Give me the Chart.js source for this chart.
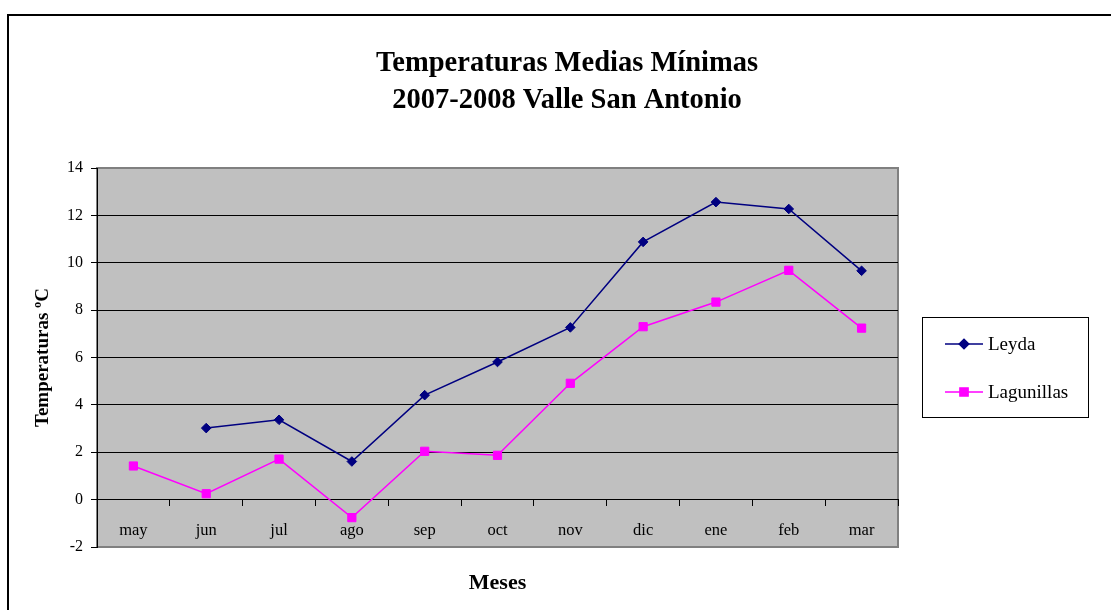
<!DOCTYPE html>
<html>
<head>
<meta charset="utf-8">
<script src="https://cdn.jsdelivr.net/npm/chart.js@4/dist/chart.umd.min.js"></script>
<style>
  html, body { margin: 0; padding: 0; background: #fff; }
  #wrap { position: relative; width: 1111px; height: 610px; overflow: hidden; }
  #frame { position: absolute; left: 7px; top: 14px; width: 1200px; height: 700px;
           border-top: 2px solid #000; border-left: 2px solid #000; pointer-events: none; }
  canvas { position: absolute; left: 0; top: 0; }
</style>
</head>
<body>
<div id="wrap">
  <canvas id="c" width="1111" height="610"></canvas>
  <div id="frame"></div>
</div>
<script>
const months = ['may', 'jun', 'jul', 'ago', 'sep', 'oct', 'nov', 'dic', 'ene', 'feb', 'mar'];
const leyda = [null, 3.02, 3.37, 1.61, 4.41, 5.81, 7.27, 10.88, 12.56, 12.27, 9.66];
const lagunillas = [1.42, 0.25, 1.71, -0.76, 2.04, 1.87, 4.91, 7.30, 8.34, 9.68, 7.24];
const titleLines = ['Temperaturas Medias Mínimas', '2007-2008 Valle San Antonio'];
const yTitle = 'Temperaturas ºC';
const xTitle = 'Meses';
const seriesNames = ['Leyda', 'Lagunillas'];

const SERIF = "'Liberation Serif', 'Times New Roman', serif";
Chart.defaults.font.family = SERIF;
Chart.defaults.color = '#000';

const plotBg = {
  id: 'plotBg',
  beforeDraw(chart) {
    const a = chart.chartArea, ctx = chart.ctx;
    ctx.save();
    ctx.fillStyle = '#C0C0C0';
    ctx.fillRect(a.left, a.top, a.right - a.left, a.bottom - a.top);
    ctx.strokeStyle = '#808080';
    ctx.lineWidth = 2;
    ctx.strokeRect(a.left, a.top, a.right - a.left, a.bottom - a.top);
    ctx.restore();
  }
};

const boxLegend = {
  id: 'boxLegend',
  afterDraw(chart) {
    const ctx = chart.ctx;
    ctx.save();
    ctx.strokeStyle = '#000';
    ctx.lineWidth = 1;
    ctx.strokeRect(922.5, 317.5, 166, 100);
    chart.data.datasets.forEach((ds, i) => {
      const y = 344 + i * 48;
      ctx.strokeStyle = ds.borderColor;
      ctx.lineWidth = ds.borderWidth;
      ctx.beginPath();
      ctx.moveTo(945, y);
      ctx.lineTo(983, y);
      ctx.stroke();
      ctx.fillStyle = ds.pointBackgroundColor;
      ctx.strokeStyle = ds.pointBorderColor;
      Chart.helpers.drawPoint(ctx, {
        pointStyle: ds.pointStyle, radius: ds.pointRadius, borderWidth: 1, rotation: 0
      }, 964, y);
      ctx.fillStyle = '#000';
      ctx.font = '19px ' + SERIF;
      ctx.textAlign = 'left';
      ctx.textBaseline = 'middle';
      ctx.fillText(ds.label, 988, y + 1);
    });
    ctx.restore();
  }
};

new Chart(document.getElementById('c'), {
  type: 'line',
  data: {
    labels: months,
    datasets: [
      {
        label: seriesNames[0], data: leyda,
        borderColor: '#000080', backgroundColor: '#000080', borderWidth: 1.5,
        pointStyle: 'rectRot', pointRadius: 4.8,
        pointBackgroundColor: '#000080', pointBorderColor: '#000080', pointBorderWidth: 1,
        tension: 0, spanGaps: false
      },
      {
        label: seriesNames[1], data: lagunillas,
        borderColor: '#FF00FF', backgroundColor: '#FF00FF', borderWidth: 1.5,
        pointStyle: 'rect', pointRadius: 5.8,
        pointBackgroundColor: '#FF00FF', pointBorderColor: '#FF00FF', pointBorderWidth: 1,
        tension: 0
      }
    ]
  },
  options: {
    responsive: false,
    animation: false,
    layout: { padding: { left: 23, right: 0, top: 0, bottom: 0 } },
    plugins: {
      legend: { display: false },
      tooltip: { enabled: false },
      title: {
        display: true,
        text: titleLines,
        color: '#000',
        font: { size: 28.5, weight: 'bold', family: SERIF, lineHeight: '37px' },
        padding: { top: 45.5, bottom: 48.5 }
      }
    },
    scales: {
      x: {
        type: 'category',
        position: { y: 0 },
        offset: true,
        grid: { display: true, drawOnChartArea: false, drawTicks: true, tickLength: 6, offset: true, color: '#000', lineWidth: 1 },
        border: { display: true, color: '#000', width: 1 },
        ticks: { font: { size: 16.5, family: SERIF }, color: '#000', padding: 15, maxRotation: 0, autoSkip: false }
      },
      x2: {
        type: 'category',
        labels: months,
        position: 'bottom',
        grid: { display: false },
        border: { display: false },
        ticks: { display: false },
        title: { display: true, text: xTitle, font: { size: 22, weight: 'bold', family: SERIF }, color: '#000', padding: { top: 0, bottom: 13.8 } },
        afterFit(s) { s.height = 63; }
      },
      y: {
        position: 'left',
        min: -2, max: 14,
        ticks: { stepSize: 2, font: { size: 16, family: SERIF }, color: '#000', padding: 8 },
        grid: {
          color: (c) => (c.tick && (c.tick.value === 14 || c.tick.value === -2)) ? 'rgba(0,0,0,0)' : '#000',
          tickColor: '#000', tickLength: 6, lineWidth: 1, drawTicks: true
        },
        border: { display: true, color: '#000', width: 1 },
        title: { display: true, text: yTitle, font: { size: 19, weight: 'bold', family: SERIF }, color: '#000', padding: { top: 8.3, bottom: 0 } },
        afterFit(s) { s.width = 74; }
      },
      y2: {
        position: 'right',
        display: true,
        grid: { display: false },
        border: { display: false },
        ticks: { display: false },
        afterFit(s) { s.width = 213; }
      }
    }
  },
  plugins: [plotBg, boxLegend]
});
</script>
</body>
</html>
